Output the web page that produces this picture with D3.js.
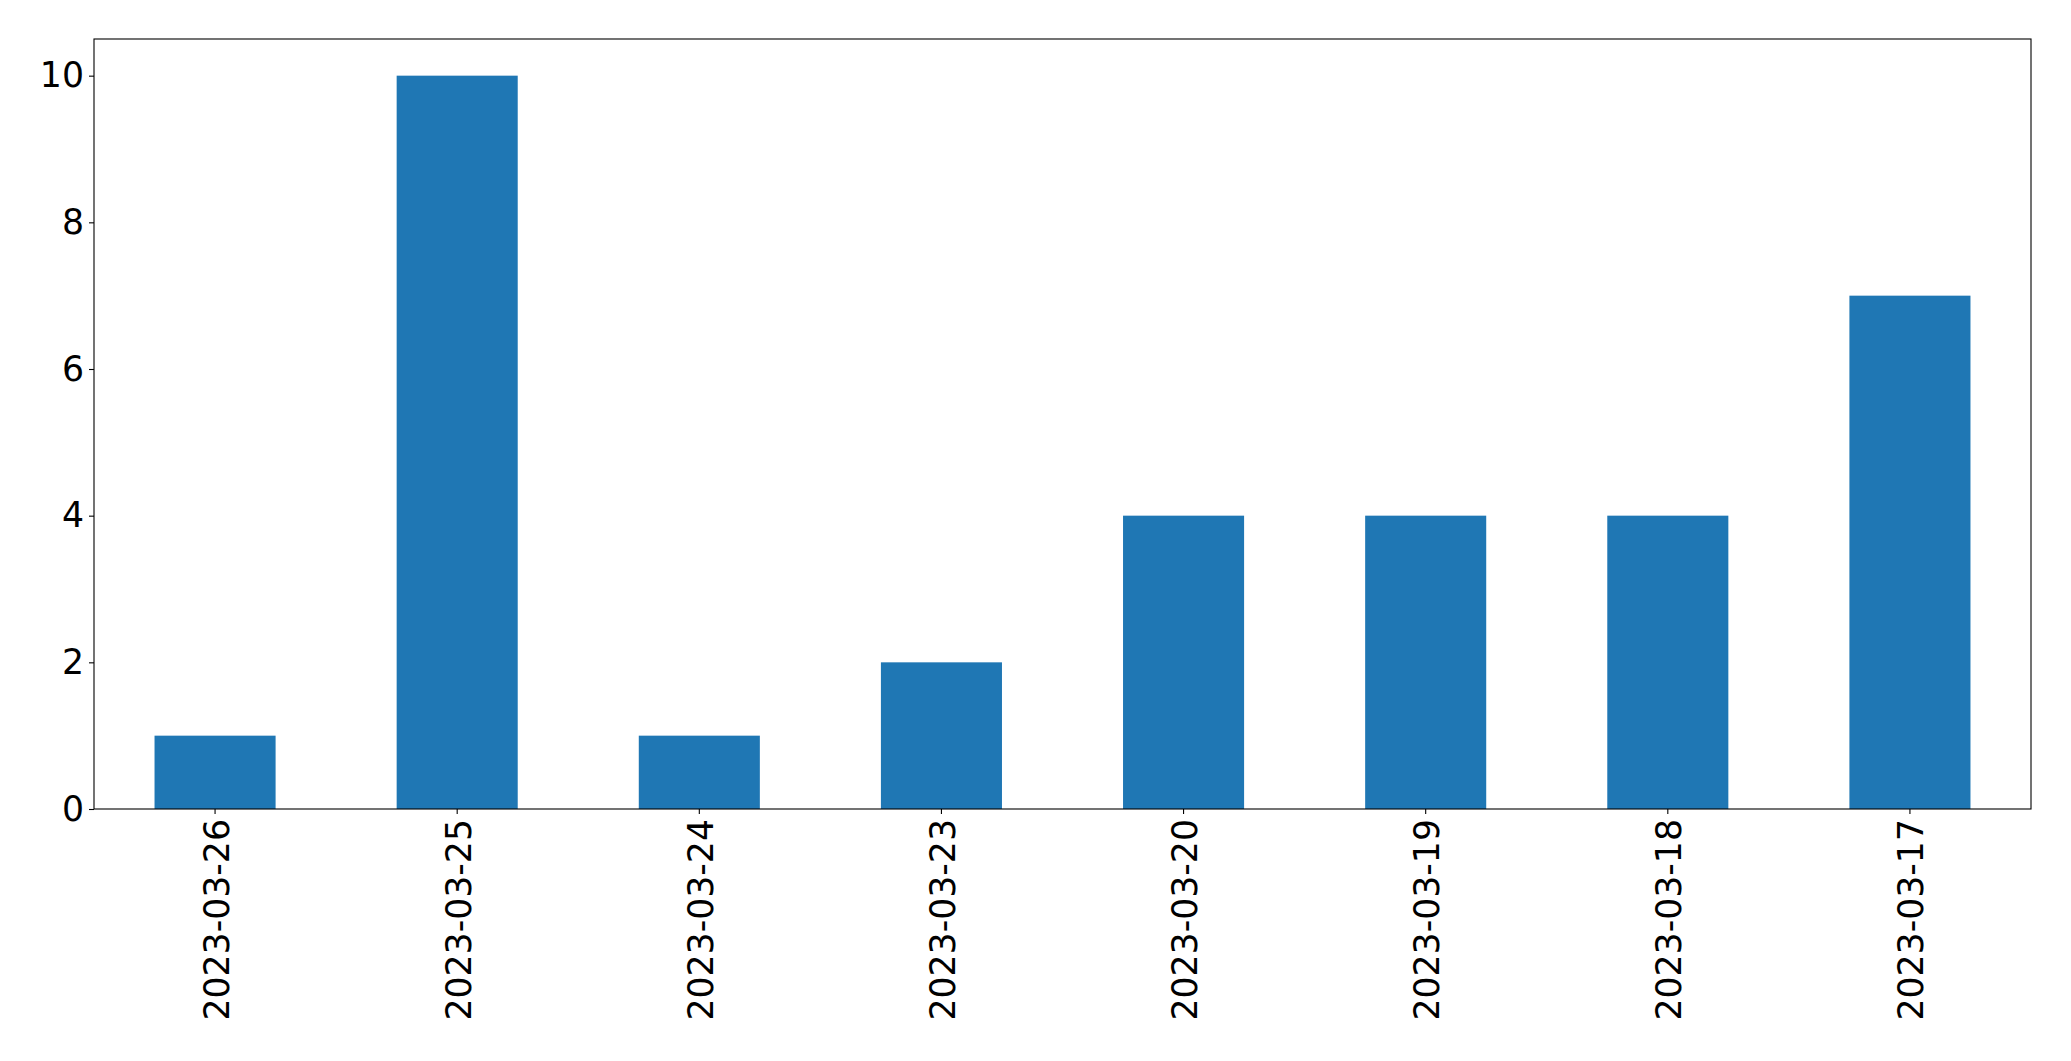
<!DOCTYPE html>
<html lang="en">
  <head>
    <meta charset="UTF-8" />
    <title>bar chart</title>
    <script src="https://d3js.org/d3.v7.min.js"></script>
    <style>
      body { margin: 0; background: #fff; }
      .tick text { font-family: 'DejaVu Sans', sans-serif; font-size: 34.7px; fill: #000; }
    </style>
  </head>
  <body>
    <svg width="2071" height="1061"></svg>
  </body>

  <script>
    // data
    var dates = ['2023-03-26', '2023-03-25', '2023-03-24', '2023-03-23', '2023-03-20', '2023-03-19', '2023-03-18', '2023-03-17']
    var counts = [1, 10, 1, 2, 4, 4, 4, 7]
    var yTicks = [0, 2, 4, 6, 8, 10]

    var svg = d3.select('svg')
    var margin = { left: 94, top: 39, right: 40, bottom: 252 }
    var width = 2071 - margin.left - margin.right
    var height = 1061 - margin.top - margin.bottom

    var g = svg.append('g').attr('transform', 'translate(' + margin.left + ',' + margin.top + ')')

    var x = d3.scaleBand().domain(dates).range([0, width]).paddingInner(0.5).paddingOuter(0.25)
    var y = d3.scaleLinear().domain([0, 10.5]).range([height, 0])

    // bars
    g.append('g')
      .selectAll('rect')
      .data(dates)
      .enter()
      .append('rect')
      .attr('x', function (d) { return x(d) })
      .attr('y', function (d, i) { return y(counts[i]) })
      .attr('width', x.bandwidth())
      .attr('height', function (d, i) { return y(0) - y(counts[i]) })
      .attr('fill', '#1f77b4')

    // y axis
    var yAxis = g.append('g')
      .call(d3.axisLeft(y).tickValues(yTicks).tickSize(5).tickPadding(5))
    yAxis.select('.domain').remove()
    yAxis.selectAll('.tick line').attr('stroke', '#000').attr('stroke-width', 1.1)

    // x axis
    var xAxis = g.append('g')
      .attr('transform', 'translate(0,' + height + ')')
      .call(d3.axisBottom(x).tickSize(5).tickPadding(5))
    xAxis.select('.domain').remove()
    xAxis.selectAll('.tick line').attr('stroke', '#000').attr('stroke-width', 1.1)
    xAxis.selectAll('.tick text')
      .attr('transform', 'rotate(-90)')
      .attr('text-anchor', 'end')
      .attr('x', -10)
      .attr('y', 0)
      .attr('dy', '0.39em')

    // frame
    g.append('rect')
      .attr('width', width)
      .attr('height', height)
      .attr('fill', 'none')
      .attr('stroke', '#000')
      .attr('stroke-width', 1.1)
  </script>
</html>
